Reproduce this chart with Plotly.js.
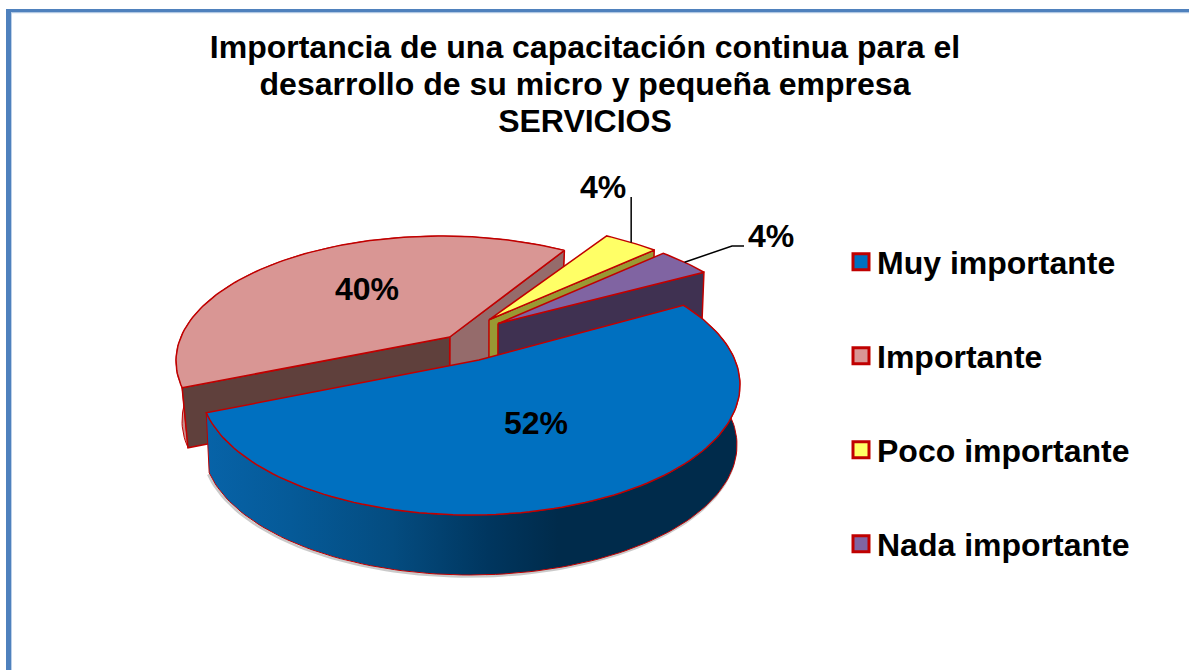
<!DOCTYPE html>
<html>
<head>
<meta charset="utf-8">
<style>html,body{margin:0;padding:0;background:#fff}#chart{width:1189px;height:670px}
/* tightens the gap between legend swatch and text */
.legendtext,.legend2text,.legend3text,.legend4text{transform:translateX(-4px)}</style>
<script src="https://cdn.plot.ly/plotly-3.0.1.min.js"></script>
</head>
<body>
<div id="chart"></div>
<script>
// ---- data ----
const categories = ["Muy importante", "Importante", "Poco importante", "Nada importante"];
const percentages = [52, 40, 4, 4];
const chartTitle = "Importancia de una capacitación continua para el<br>desarrollo de su micro y pequeña empresa<br>SERVICIOS";

// ---- styles ----
const topColors = ["#0070c0", "#d99694", "#ffff66", "#8064a2"];
const cutColors = ["#00345e", "#5f403c", "#999933", "#3f3151"];
const sideCutColors = [null, "#956b6b", null, null];
const edgeColor = "#c00000";
const fontFamily = "'Liberation Sans', Arial, sans-serif";

// ---- perspective disc geometry (layout only, one ellipse frame per exploded slice) ----
const startAngle = 60.4, depth = 60;
const tiltU = 0.033, tiltV = -0.192;
const frameCx = [470, 441, 480, 489];
const frameCy = [385, 361, 343, 347];
const frameRx = [270, 265, 272, 272];
const frameRy = [130, 125, 121, 122];
const frameInset = [3, 6, 3, 3];
const drawOrder = [1, 2, 3, 0];

const total = percentages.reduce((a, b) => a + b, 0);
const starts = [];
percentages.reduce((acc, v, i) => { starts[i] = acc; return acc + v / total * 360; }, startAngle);
const sweeps = percentages.map(v => v / total * 360);

// Maps a point of the flat pie to the tilted disc drawn in axis units.
function project(i, angleDeg, radius, lower) {
  const a = angleDeg * Math.PI / 180;
  const u = Math.sin(a) * radius, v = -Math.cos(a) * radius;
  const dot = u * tiltU + v * tiltV, c2 = tiltU * tiltU + tiltV * tiltV;
  const pu = dot / c2 * tiltU, pv = dot / c2 * tiltV;
  const g = Math.sqrt(1 - c2), d = 1 + dot;
  const p = (tiltU + pu + g * (u - pu)) / d, q = (tiltV + pv + g * (v - pv)) / d;
  const rx = frameRx[i] - (lower ? frameInset[i] : 0);
  return [frameCx[i] + rx * p, frameCy[i] + frameRy[i] * q + (lower ? depth : 0)];
}
function arc(i, lower) {
  const n = Math.max(6, Math.round(sweeps[i] / 1.5)), pts = [];
  for (let k = 0; k <= n; k++) pts.push(project(i, starts[i] + sweeps[i] * k / n, 1, lower));
  return pts;
}
function poly(pts, fill, extra, width) {
  const closed = pts.concat([pts[0]]);
  return Object.assign({
    type: "scatter", mode: "lines", x: closed.map(p => p[0]), y: closed.map(p => p[1]),
    fill: "toself", fillcolor: fill, line: { color: edgeColor, width: width || 1.5 },
    showlegend: false, hoverinfo: "skip"
  }, extra || {});
}

const traces = [];
// soft shadow under the front of the blue slice
const shadowPts = arc(0, true);
traces.push({ type: "scatter", mode: "lines", x: shadowPts.map(p => p[0] - 1), y: shadowPts.map(p => p[1] + 1.5),
  line: { color: "rgba(80,80,80,0.3)", width: 2.5 }, showlegend: false, hoverinfo: "skip" });

drawOrder.forEach(i => {
  const s = starts[i], e = s + sweeps[i];
  const apexT = project(i, 0, 0, false), apexB = project(i, 0, 0, true);
  const wallPts = arc(i, false).concat(arc(i, true).reverse());
  if (i === 0) {
    traces.push(poly(wallPts, "#0a5d9f", { fillgradient: {
      type: "horizontal", start: 205, stop: 740,
      colorscale: [[0, "#0763a8"], [0.16, "#055a98"], [0.35, "#044c80"], [0.53, "#00365f"], [0.66, "#002b4b"], [1, "#002b4b"]]
    }}, 1));
  } else if (i === 1) {
    traces.push(poly(wallPts, "#c98d8b", null, 1));
    traces.push(poly([apexT, project(i, e, 1, false), project(i, e, 1, true), apexB], sideCutColors[i]));
    traces.push(poly([apexT, project(i, s, 1, false), project(i, s, 1, true), apexB], cutColors[i]));
  } else {
    // only the cut that faces the viewer shows on the narrow slices
    traces.push(poly([apexT, project(i, e, 1, false), project(i, e, 1, true), apexB], cutColors[i]));
  }
  traces.push(poly([apexT].concat(arc(i, false)), topColors[i], { name: categories[i] }));
});

// legend swatches, one legend per entry so the entries keep their wide spacing
const legendIds = ["legend", "legend2", "legend3", "legend4"];
categories.forEach((c, i) => traces.push({
  type: "scatter", mode: "markers", x: [null], y: [null], name: c, showlegend: true, legend: legendIds[i],
  marker: { symbol: "square", size: 16, color: topColors[i], line: { color: edgeColor, width: 3 } }
}));

// leader lines start on the rim at the middle of the small slices
const rim = i => project(i, starts[i] + sweeps[i] / 2, 1, false);
const yellowRim = rim(2), purpleRim = rim(3);
const leader = pts => ({ type: "path", xref: "x", yref: "y", layer: "above",
  path: "M" + pts.map(p => p[0] + "," + p[1]).join("L"), line: { color: "#000", width: 1.5 } });

const bold = { family: fontFamily, size: 32, color: "#000", weight: 700 };
const pct = i => Math.round(percentages[i] / total * 100) + "%";
const label = (i, x, y) => ({ x, y, xref: "x", yref: "y", text: pct(i), showarrow: false, font: bold, xanchor: "center", yanchor: "middle" });

const legendCfg = {};
const legendY = [262, 356, 450, 544];
legendIds.forEach((id, i) => {
  legendCfg[id] = { x: 841 / 1189, xanchor: "left", y: 1 - legendY[i] / 670, yanchor: "middle", yref: "paper",
    font: bold, bgcolor: "rgba(0,0,0,0)", itemclick: false, itemdoubleclick: false, tracegroupgap: 0 };
});

const layout = Object.assign({
  width: 1189, height: 670, margin: { l: 0, r: 0, t: 0, b: 0 },
  paper_bgcolor: "#fff", plot_bgcolor: "#fff", hovermode: false, dragmode: false,
  title: { text: chartTitle, x: 585 / 1189, xanchor: "center", xref: "paper",
    y: 1 - 34 / 670, yanchor: "top", yref: "paper", pad: { t: 0, b: 0 },
    font: { family: fontFamily, size: 32, color: "#000", weight: 700 } },
  xaxis: { range: [0, 1189], visible: false, fixedrange: true },
  yaxis: { range: [670, 0], visible: false, fixedrange: true },
  shapes: [
    { type: "rect", xref: "x", yref: "y", x0: 6, x1: 11, y0: 9, y1: 670, fillcolor: "#4f81bd", line: { width: 0 } },
    { type: "rect", xref: "x", yref: "y", x0: 6, x1: 1189, y0: 9, y1: 12.5, fillcolor: "#4f81bd", line: { width: 0 } },
    { type: "rect", xref: "x", yref: "y", x0: 11, x1: 12, y0: 12.5, y1: 670, fillcolor: "#bcd0e8", line: { width: 0 } },
    { type: "rect", xref: "x", yref: "y", x0: 11, x1: 1189, y0: 12.5, y1: 13.2, fillcolor: "#bcd0e8", line: { width: 0 } },
    leader([yellowRim, [yellowRim[0], 197]]),
    leader([purpleRim, [732, 246], [744, 246]])
  ],
  annotations: [
    label(0, 536, 423), label(1, 367, 289), label(2, 603, 187), label(3, 771, 236)
  ]
}, legendCfg);

// Plotly fixes line spacing at 1.3em: tighten the title lines.
const titleBaselines = [58, 95, 132];
const gdEl = document.getElementById("chart");
function tighten() {
  const title = gdEl.querySelector(".gtitle");
  if (title) {
    title.removeAttribute("dy");
    title.querySelectorAll("tspan.line").forEach((t, i) => {
      t.removeAttribute("dy");
      t.setAttribute("y", titleBaselines[i]);
    });
  }
}
new MutationObserver(tighten).observe(gdEl, { childList: true, subtree: true });
Plotly.newPlot(gdEl, traces, layout, { displayModeBar: false }).then(tighten);
</script>
</body>
</html>
